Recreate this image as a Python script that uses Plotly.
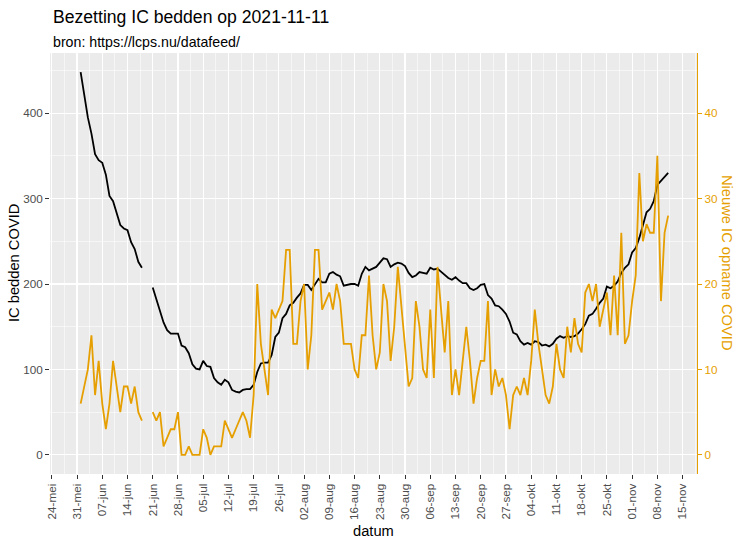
import plotly.graph_objects as go
import pandas as pd

# ---------------- data ----------------
dates = pd.date_range("2021-06-01", "2021-11-11", freq="D")

ic_bedden = [
    448, 420, 395, 376, 352, 345, 342, 328, 303, 297,
    284, 269, 265, 263, 249, 241, 226, 219, None, None,
    196, 182, 168, 155, 146, 142, 142, 142, 128, 126,
    119, 106, 101, 100, 110, 104, 103, 90, 85, 82,
    88, 85, 76, 74, 73, 76, 77, 77, 82, 97,
    107, 108, 108, 117, 138, 143, 160, 165, 175, 178,
    184, 189, 199, 199, 193, 200, 206, 202, 202, 212,
    214, 211, 209, 198, 199, 200, 200, 198, 212, 220,
    216, 218, 220, 225, 230, 229, 220, 223, 225, 224,
    221, 213, 208, 210, 214, 213, 212, 219, 217, 218,
    214, 210, 207, 205, 208, 204, 201, 201, 195, 193,
    195, 199, 200, 187, 183, 175, 174, 170, 165, 156,
    143, 141, 133, 129, 131, 129, 133, 132, 128, 129,
    127, 130, 136, 139, 137, 139, 138, 139, 142, 147,
    153, 163, 165, 171, 178, 183, 197, 195, 198, 203,
    213, 219, 223, 237, 242, 254, 270, 284, 288, 297,
    316, 321, 326, 330,
]

ic_opname = [
    6, 8, 10, 14, 7, 11, 6, 3, 6, 11,
    8, 5, 8, 8, 6, 8, 5, 4, None, None,
    5, 4, 5, 1, 2, 3, 3, 5, 0, 0,
    1, 0, 0, 0, 3, 2, 0, 1, 1, 1,
    4, 3, 2, 3, 4, 5, 4, 2, 7, 20,
    13, 10, 7, 17, 16, 17, 18, 24, 24, 13,
    13, 18, 20, 10, 14, 24, 24, 17, 18, 19,
    17, 20, 18, 13, 13, 13, 10, 9, 14, 14,
    21, 14, 10, 12, 20, 18, 11, 15, 22, 17,
    13, 8, 9, 18, 15, 10, 9, 17, 9, 22,
    17, 12, 18, 7, 10, 7, 11, 15, 11, 6,
    9, 11, 11, 18, 7, 10, 8, 9, 7, 3,
    7, 8, 7, 9, 7, 11, 17, 13, 10, 7,
    6, 8, 13, 10, 9, 15, 12, 16, 13, 12,
    19, 20, 18, 20, 15, 17, 19, 14, 21, 14,
    26, 13, 14, 18, 21, 33, 25, 27, 26, 26,
    35, 18, 26, 28,
]

tick_dates = pd.date_range("2021-05-24", periods=26, freq="7D")
tick_labels = [
    "24-mei", "31-mei", "07-jun", "14-jun", "21-jun", "28-jun", "05-jul",
    "12-jul", "19-jul", "26-jul", "02-aug", "09-aug", "16-aug", "23-aug",
    "30-aug", "06-sep", "13-sep", "20-sep", "27-sep", "04-okt", "11-okt",
    "18-okt", "25-okt", "01-nov", "08-nov", "15-nov",
]
left_ticks = [0, 100, 200, 300, 400]
right_ticks = [0, 10, 20, 30, 40]
sec_factor = 10

# ---------------- styling ----------------
W, H = 742, 543
L, R, T, B = 50, 45, 53, 69
PW, PH = W - L - R, H - T - B
ORANGE = "#E69F00"
FONT = "Liberation Sans, Arial, sans-serif"


def px_x(px):
    return (px - L) / PW


def px_y(py):
    return (H - B - py) / PH


ymin, ymax = -22.4, 470.4

fig = go.Figure()
fig.add_trace(go.Scatter(x=dates, y=ic_bedden, mode="lines",
                         line=dict(color="black", width=1.8),
                         yaxis="y", showlegend=False))
fig.add_trace(go.Scatter(x=dates, y=ic_opname, mode="lines",
                         line=dict(color=ORANGE, width=1.8),
                         yaxis="y2", showlegend=False))

fig.update_layout(
    width=W, height=H, autosize=False,
    margin=dict(l=L, r=R, t=T, b=B, pad=0),
    plot_bgcolor="#EBEBEB", paper_bgcolor="white",
    font=dict(family=FONT, color="black"),
    xaxis=dict(
        type="date",
        range=["2021-05-23 12:00", "2021-11-19 00:00"],
        tickmode="array", tickvals=tick_dates, ticktext=tick_labels,
        tickangle=-90, ticks="outside", ticklen=4, tickwidth=1,
        tickcolor="#333333",
        tickfont=dict(size=11.7, color="#4D4D4D", family=FONT),
        showgrid=True, gridcolor="white", gridwidth=1.1,
        minor=dict(tickmode="linear", tick0="2021-05-24 00:00",
                   dtick=3.5 * 86400000, showgrid=True,
                   gridcolor="white", gridwidth=0.55),
        zeroline=False, showline=False, fixedrange=True,
    ),
    yaxis=dict(
        range=[ymin, ymax],
        tickmode="array", tickvals=left_ticks,
        ticks="outside", ticklen=4, tickwidth=1, tickcolor="#333333",
        tickfont=dict(size=11.7, color="#4D4D4D", family=FONT),
        showgrid=True, gridcolor="white", gridwidth=1.1,
        minor=dict(tickmode="linear", tick0=0, dtick=50, showgrid=True,
                   gridcolor="white", gridwidth=0.55),
        zeroline=False, showline=False,
    ),
    yaxis2=dict(
        overlaying="y", side="right",
        range=[ymin / sec_factor, ymax / sec_factor],
        tickmode="array", tickvals=right_ticks,
        ticks="outside", ticklen=4, tickwidth=1, tickcolor=ORANGE,
        tickfont=dict(size=11.7, color=ORANGE, family=FONT),
        showgrid=False, zeroline=False,
        showline=True, linecolor=ORANGE, linewidth=1.1,
    ),
    annotations=[
        dict(text="Bezetting IC bedden op 2021-11-11", xref="paper",
             yref="paper", x=px_x(51), y=px_y(17), xanchor="left",
             yanchor="middle", showarrow=False,
             font=dict(size=17.6, color="black", family=FONT)),
        dict(text="bron: https://lcps.nu/datafeed/", xref="paper",
             yref="paper", x=px_x(51), y=px_y(42), xanchor="left",
             yanchor="middle", showarrow=False,
             font=dict(size=14.2, color="black", family=FONT)),
        dict(text="datum", xref="paper", yref="paper",
             x=px_x(373), y=px_y(531), xanchor="center",
             yanchor="middle", showarrow=False,
             font=dict(size=14.7, color="black", family=FONT)),
        dict(text="IC bedden COVID", xref="paper", yref="paper",
             x=px_x(14), y=px_y(263), xanchor="center",
             yanchor="middle", textangle=-90, showarrow=False,
             font=dict(size=14.7, color="black", family=FONT)),
        dict(text="Nieuwe IC opname COVID", xref="paper", yref="paper",
             x=px_x(727), y=px_y(263), xanchor="center",
             yanchor="middle", textangle=90, showarrow=False,
             font=dict(size=14.7, color=ORANGE, family=FONT)),
    ],
)

fig.write_html(
    "out.html",
    config={"displayModeBar": False, "staticPlot": True},
    post_script="document.body.style.margin='0';"
                "document.body.style.overflow='hidden';",
)
